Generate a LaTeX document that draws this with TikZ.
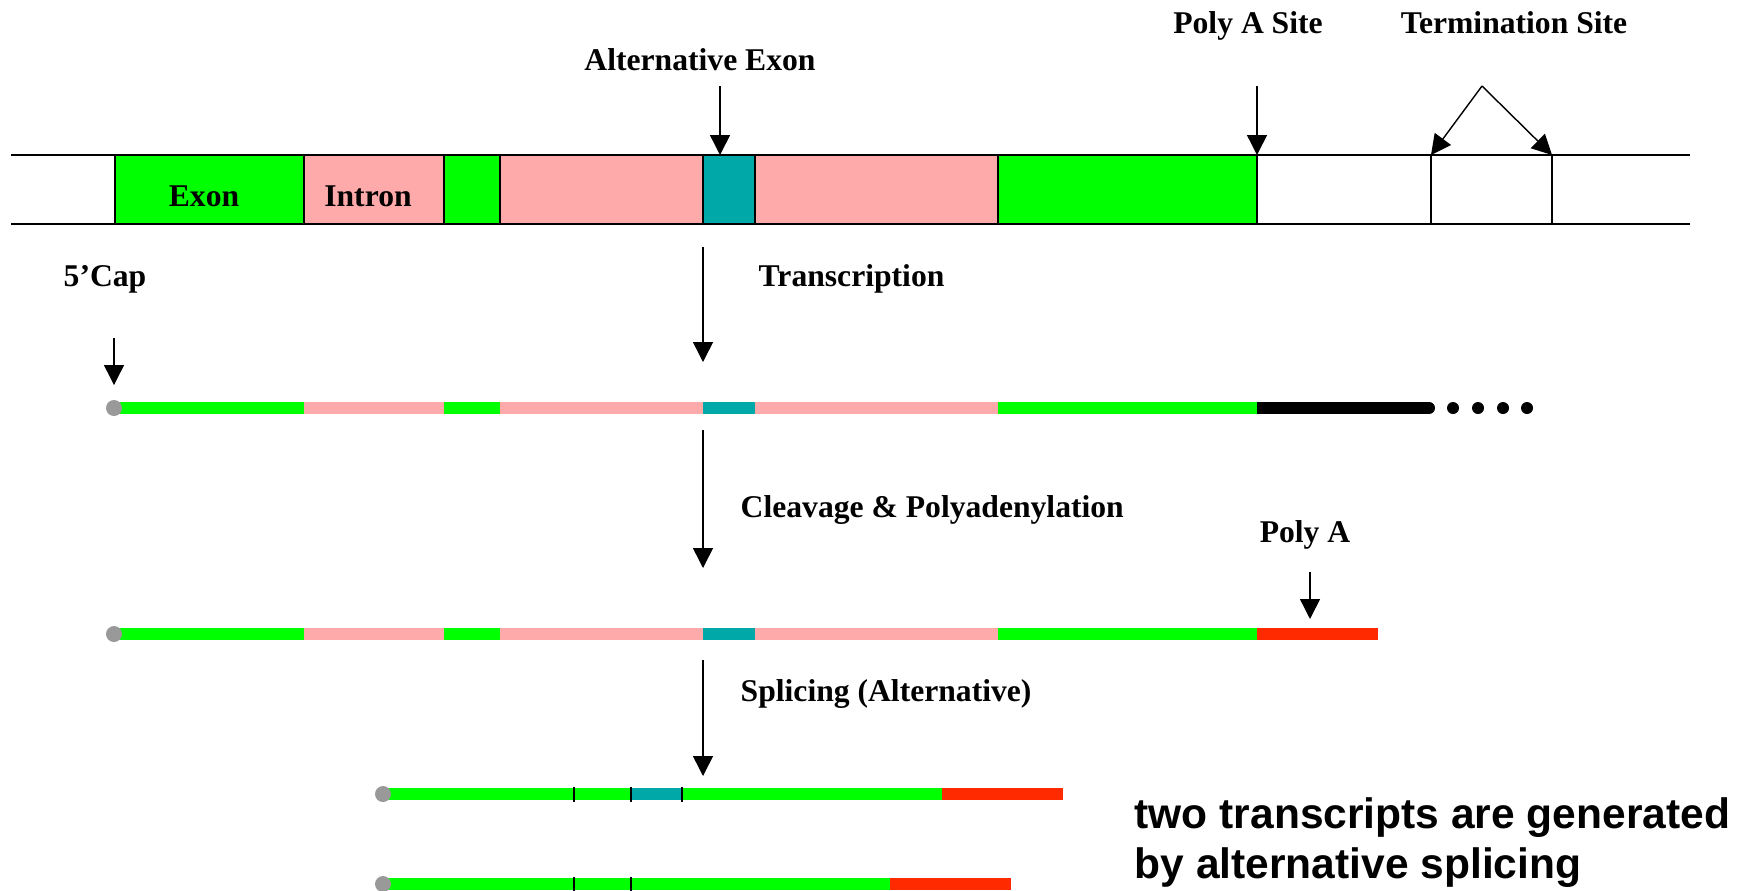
\documentclass[tikz,border=0pt]{standalone}
\usepackage{fontspec}
\setmainfont{Liberation Serif}
\newfontfamily\notefont{Liberation Sans}
\usetikzlibrary{arrows.meta}
\definecolor{exongreen}{RGB}{0,255,0}
\definecolor{intronpink}{RGB}{255,170,170}
\definecolor{altteal}{RGB}{0,168,168}
\definecolor{polyred}{RGB}{255,42,0}
\definecolor{capgray}{RGB}{153,153,153}
\def\premrna#1{%
  \draw[seg, exongreen] (115,#1) -- (304,#1);
  \draw[seg, intronpink] (304,#1) -- (444,#1);
  \draw[seg, exongreen] (444,#1) -- (500,#1);
  \draw[seg, intronpink] (500,#1) -- (703,#1);
  \draw[seg, altteal] (703,#1) -- (755,#1);
  \draw[seg, intronpink] (755,#1) -- (998,#1);
  \draw[seg, exongreen] (998,#1) -- (1257,#1);
  \fill[capgray] (114,#1) circle (8);}
\tikzset{
  lbl/.style={font=\fontsize{9}{11}\selectfont\bfseries, inner sep=0pt},
  seg/.style={line width=1.2mm},
  down/.style={-{Triangle[length=2mm,width=2mm]}, line width=0.4pt},
  tick/.style={line width=0.4pt},
}

\begin{document}
\begin{tikzpicture}[x=0.1mm, y=-0.1mm]
			%%%%% START %%%%%
			\useasboundingbox (0,0) rectangle (1748,890);
			
			% gene
			\draw[fill=exongreen, line width=0.3pt] (115,155) rectangle (304,224);
			\draw[fill=intronpink, line width=0.3pt] (304,155) rectangle (444,224);
			\draw[fill=exongreen, line width=0.3pt] (444,155) rectangle (500,224);
			\draw[fill=intronpink, line width=0.3pt] (500,155) rectangle (703,224);
			\draw[fill=altteal, line width=0.3pt] (703,155) rectangle (755,224);
			\draw[fill=intronpink, line width=0.3pt] (755,155) rectangle (998,224);
			\draw[fill=exongreen, line width=0.3pt] (998,155) rectangle (1257,224);
			\draw[line width=0.3pt] (1431,155) -- (1431,224);
			\draw[line width=0.3pt] (1552,155) -- (1552,224);
			\draw[line width=0.6pt] (11,155) -- (1690,155);
			\draw[line width=0.6pt] (11,224) -- (1690,224);
			
			\node[lbl, anchor=base] (exon) at (204,206) {Exon};
			\node[lbl, anchor=base] (intron) at (368,206) {Intron};
			
			\node[lbl, anchor=base] (altexon) at (700,70) {Alternative Exon};
			\node[lbl, anchor=base] (polyasite) at (1248,33) {Poly A Site};
			\node[lbl, anchor=base] (termsite) at (1514,33) {Termination Site};
			
			\coordinate (altexon-a) at (720,86);
			\coordinate (altexon-b) at (720,155);
			\draw[down] (altexon-a) -- (altexon-b);
			\coordinate (polyasite-a) at (1257,86);
			\coordinate (polyasite-b) at (1257,155);
			\draw[down] (polyasite-a) -- (polyasite-b);
			\coordinate (termsite-a) at (1482,86);
			\coordinate (termsite-l) at (1431,155);
			\coordinate (termsite-r) at (1552,155);
			\draw[down] (termsite-a) -- (termsite-l);
			\draw[down] (termsite-a) -- (termsite-r);
			
			% transcription
			\node[lbl, anchor=base] (cap) at (105,286) {5’Cap};
			\coordinate (cap-a) at (114,338);
			\coordinate (cap-b) at (114,385);
			\draw[down] (cap-a) -- (cap-b);
			
			\coordinate (transcr-a) at (703,247);
			\coordinate (transcr-b) at (703,362);
			\draw[down] (transcr-a) -- (transcr-b);
			\node[lbl, anchor=base west] (transcr) at (758,286) {Transcription};
			
			\draw[seg, black, line cap=round] (1257,408) -- (1429,408);
			\premrna{408}
			\fill (1453,408) circle (6);
			\fill (1478,408) circle (6);
			\fill (1503,408) circle (6);
			\fill (1527,408) circle (6);
			
			% cleavage
			\coordinate (cleave-a) at (703,430);
			\coordinate (cleave-b) at (703,568);
			\draw[down] (cleave-a) -- (cleave-b);
			\node[lbl, anchor=base west] (cleave) at (740,517) {Cleavage \& Polyadenylation};
			
			\node[lbl, anchor=base] (polya) at (1305,542) {Poly A};
			\coordinate (polya-a) at (1310,572);
			\coordinate (polya-b) at (1310,619);
			\draw[down] (polya-a) -- (polya-b);
			
			\premrna{634}
			\draw[seg, polyred] (1257,634) -- (1378,634);
			
			% splicing
			\coordinate (splice-a) at (703,660);
			\coordinate (splice-b) at (703,776);
			\draw[down] (splice-a) -- (splice-b);
			\node[lbl, anchor=base west] (splice) at (740,701) {Splicing (Alternative)};
			
			\draw[seg, exongreen] (383,794) -- (942,794);
			\draw[seg, altteal] (631,794) -- (682,794);
			\draw[seg, polyred] (942,794) -- (1063,794);
			\fill[capgray] (383,794) circle (8);
			\draw[tick] (574,787) -- (574,802);
			\draw[tick] (631,787) -- (631,802);
			\draw[tick] (682,787) -- (682,802);
			
			\draw[seg, exongreen] (383,884) -- (890,884);
			\draw[seg, polyred] (890,884) -- (1011,884);
			\fill[capgray] (383,884) circle (8);
			\draw[tick] (574,877) -- (574,892);
			\draw[tick] (631,877) -- (631,892);
			
			\node[anchor=base west, inner sep=0pt, align=left, font=\notefont\bfseries\fontsize{12.1}{14.2}\selectfont] (note) at (1134,878) {two transcripts are generated\\by alternative splicing};
			
			%%%%% END %%%%%
		\end{tikzpicture}
\end{document}
